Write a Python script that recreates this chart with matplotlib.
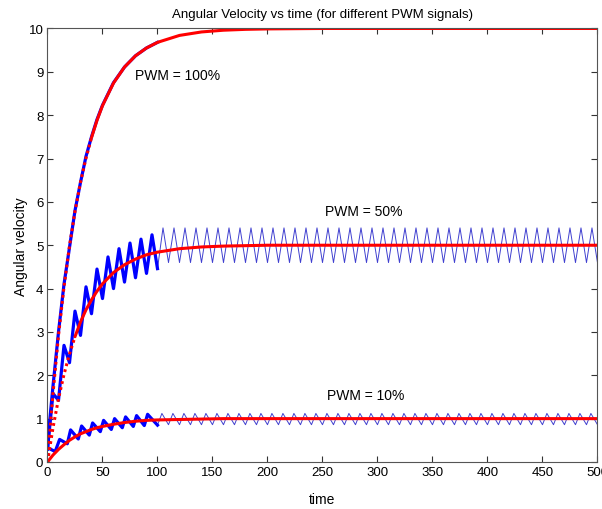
import numpy as np
import matplotlib.pyplot as plt

plt.rcParams['font.family'] = ['Liberation Sans', 'DejaVu Sans']

# red (model) curves
t_model = [0, 5, 10, 15, 20, 25, 30, 35, 40, 45, 50, 60, 70, 80, 90, 100,
           120, 140, 160, 180, 200, 250, 300, 400, 500]
model_100 = [0, 1.58, 2.92, 4.04, 4.98, 5.78, 6.45, 7.01, 7.48, 7.88, 8.22, 8.74,
             9.11, 9.37, 9.55, 9.68, 9.84, 9.92, 9.96, 9.98, 9.99, 10, 10, 10, 10]
model_50 = [0, 0.79, 1.46, 2.02, 2.49, 2.89, 3.23, 3.51, 3.74, 3.94, 4.11, 4.37,
            4.55, 4.68, 4.78, 4.84, 4.92, 4.96, 4.98, 4.99, 5.0, 5.0, 5.0, 5.0, 5.0]
model_10 = [0, 0.16, 0.29, 0.40, 0.50, 0.58, 0.65, 0.70, 0.75, 0.79, 0.82, 0.87,
            0.91, 0.94, 0.96, 0.97, 0.98, 0.99, 1.0, 1.0, 1.0, 1.0, 1.0, 1.0, 1.0]

# blue (simulated) PWM = 100%
t_pwm100 = [0, 2, 5, 10, 15, 20, 25, 30, 35, 40, 45, 50, 60, 70, 80, 90, 100]
pwm100 = [0.3, 0.95, 1.75, 3.0, 4.1, 4.95, 5.8, 6.45, 7.05, 7.5, 7.9, 8.23,
          8.75, 9.11, 9.37, 9.55, 9.68]
t_pwm100_late = [100, 120, 140, 160, 180, 200, 250, 500]
pwm100_late = [9.68, 9.84, 9.92, 9.96, 9.98, 9.99, 10, 10]

# blue PWM = 50%, transient (thick) part
t_pwm50 = [0, 5, 10, 15, 20, 25, 30, 35, 40, 45, 50, 55, 60, 65, 70, 75, 80,
           85, 90, 95, 100]
pwm50 = [0.3, 1.58, 1.42, 2.69, 2.29, 3.48, 2.92, 4.04, 3.42, 4.45, 3.77, 4.73,
         4.0, 4.92, 4.15, 5.05, 4.25, 5.14, 4.35, 5.24, 4.46]
# steady ripple (thin part): period 10, peaks / troughs
pwm50_peak, pwm50_trough = 5.4, 4.6

# blue PWM = 10%, transient (thick) part
t_pwm10 = [0, 7, 11, 18, 21, 28, 31, 38, 41, 48, 51, 58, 61, 68, 71, 78, 81,
           88, 91, 100]
pwm10 = [0.33, 0.24, 0.52, 0.42, 0.74, 0.53, 0.83, 0.62, 0.9, 0.7, 0.96, 0.75,
         1.0, 0.79, 1.04, 0.82, 1.07, 0.84, 1.1, 0.85]
pwm10_peak, pwm10_trough = 1.12, 0.86

period = 10

# thin ripple vertices
t50_thin = [100]
y50_thin = [pwm50[-1]]
for k in range(10, 50):
    t50_thin += [k * period + 5, (k + 1) * period]
    y50_thin += [pwm50_peak, pwm50_trough]

t10_thin = [100]
y10_thin = [pwm10[-1]]
for k in range(10, 50):
    t10_thin += [k * period + 4, (k + 1) * period]
    y10_thin += [pwm10_peak, pwm10_trough]

fig = plt.figure(figsize=(6.02, 5.10), dpi=100)
ax = fig.add_axes([0.0789, 0.0922, 0.9136, 0.85])

blue = '#0000ff'
thin_blue = '#4040d0'
red = '#ff0000'

ax.plot(t10_thin, y10_thin, color=thin_blue, lw=0.7)
ax.plot(t50_thin, y50_thin, color=thin_blue, lw=0.7)
ax.plot(t_pwm100_late, pwm100_late, color=blue, lw=0.7)
ax.plot(t_pwm10, pwm10, color=blue, lw=2.3)
ax.plot(t_pwm50, pwm50, color=blue, lw=2.3)
ax.plot(t_pwm100, pwm100, color=blue, lw=2.3)

# red curves: dotted where steep, solid where flat
for y, cut in [(model_100, 8), (model_50, 5), (model_10, 0)]:
    t = np.array(t_model)
    y = np.array(y)
    if cut > 0:
        ax.plot(t[:cut + 1], y[:cut + 1], color=red, lw=2.2,
                linestyle=(0, (0.9, 1.1)), dash_capstyle='butt')
    ax.plot(t[cut:], y[cut:], color=red, lw=2.2, solid_capstyle='round')

ax.text(80, 8.93, 'PWM = 100%', fontsize=10, va='center', ha='left')
ax.text(252, 5.79, 'PWM = 50%', fontsize=10, va='center', ha='left')
ax.text(254, 1.55, 'PWM = 10%', fontsize=10, va='center', ha='left')

ax.set_xlim(0, 500)
ax.set_ylim(0, 10)
ax.set_xticks(np.arange(0, 501, 50))
ax.set_yticks(np.arange(0, 11, 1))
ax.tick_params(direction='in', top=True, right=True, length=4, width=0.8,
               labelsize=9.5, colors='#333333', labelcolor='black', pad=3)
for s in ax.spines.values():
    s.set_color('#555555')
    s.set_linewidth(0.8)

ax.set_title('Angular Velocity vs time (for different PWM signals)', fontsize=9.5, pad=8)
ax.set_xlabel('time', fontsize=10, labelpad=10)
ax.set_ylabel('Angular velocity', fontsize=10, labelpad=0)

fig.savefig('out.png', dpi=100)
